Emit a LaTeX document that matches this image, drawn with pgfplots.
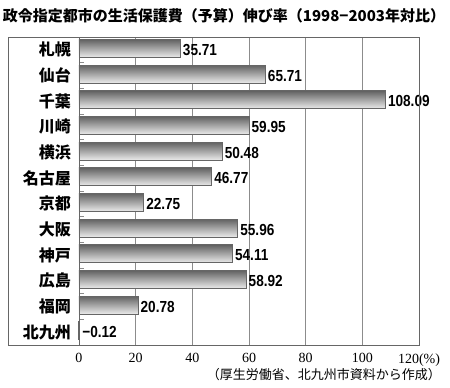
\documentclass[border=0pt]{standalone}
\usepackage{fontspec}
\setmainfont{Noto Sans CJK JP}
\newfontfamily\numfont{Liberation Sans}
\newfontfamily\serifnum{Liberation Serif}
\usepackage{pgfplots}
\pgfplotsset{compat=1.18}
\pgfplotsset{
  cyl/.style={xbar, bar width=18pt, bar shift=1.5pt, top color=black!62, bottom color=black!8, draw=black!60, line width=0.6pt,
    point meta=explicit symbolic, nodes near coords,
    every node near coord/.append style={font=\numfont\bfseries\fontsize{16}{16}\selectfont, xscale=0.85, inner sep=3pt, anchor=west, text=black}},
}
\begin{document}
\begin{tikzpicture}
\useasboundingbox (-79pt,-43pt) rectangle (371pt,345pt);
\begin{axis}[
  at={(0pt,0pt)}, anchor=south west,
  scale only axis, width=340pt, height=308pt,
  xmin=0, xmax=120, ymin=-0.5, ymax=11.5, y dir=reverse,
  clip=false,
  xtick={0,20,...,120},
  xticklabels={0,20,40,60,80,100,120(\%)},
  ytick={0,...,11},
  yticklabels={札幌,仙台,千葉,川崎,横浜,名古屋,京都,大阪,神戸,広島,福岡,北九州},
  minor ytick={0.5,1.5,...,10.5},
  ytick pos=left,
  tick align=inside,
  major tick length=0pt,
  minor tick length=5pt,
  minor tick style={black!45, line width=0.6pt},
  xtick style={draw=none},
  xmajorgrids,
  grid style={black!45, line width=0.6pt},
  axis line style={black!60, line width=0.8pt},
  yticklabel style={font=\bfseries\fontsize{16}{16}\selectfont, inner sep=0pt, xshift=-8pt},
  xticklabel style={font=\serifnum\fontsize{14}{14}\selectfont, yshift=-5pt},
  /pgf/number format/assume math mode=true,
]
\addplot[cyl] coordinates {(35.71,0) [35.71]};
\addplot[cyl] coordinates {(65.71,1) [65.71]};
\addplot[cyl] coordinates {(108.09,2) [108.09]};
\addplot[cyl] coordinates {(59.95,3) [59.95]};
\addplot[cyl] coordinates {(50.48,4) [50.48]};
\addplot[cyl] coordinates {(46.77,5) [46.77]};
\addplot[cyl] coordinates {(22.75,6) [22.75]};
\addplot[cyl] coordinates {(55.96,7) [55.96]};
\addplot[cyl] coordinates {(54.11,8) [54.11]};
\addplot[cyl] coordinates {(58.92,9) [58.92]};
\addplot[cyl] coordinates {(20.78,10) [20.78]};
\addplot[cyl, every node near coord/.append style={xshift=1pt}] coordinates {(-0.12,11) [−0.12]};
\end{axis}
\draw[black!60, line width=0.8pt] (-71pt,0pt) rectangle (340pt,308pt);
\node[anchor=base] at (145pt,323pt) {\bfseries\fontsize{15}{15}\selectfont 政令指定都市の生活保護費（予算）伸び率（1998−2003年対比）};
\node[anchor=base east, inner sep=0pt] at (362pt,-35pt) {\fontsize{13}{13}\selectfont （厚生労働省、北九州市資料から作成）};
\end{tikzpicture}
\end{document}
